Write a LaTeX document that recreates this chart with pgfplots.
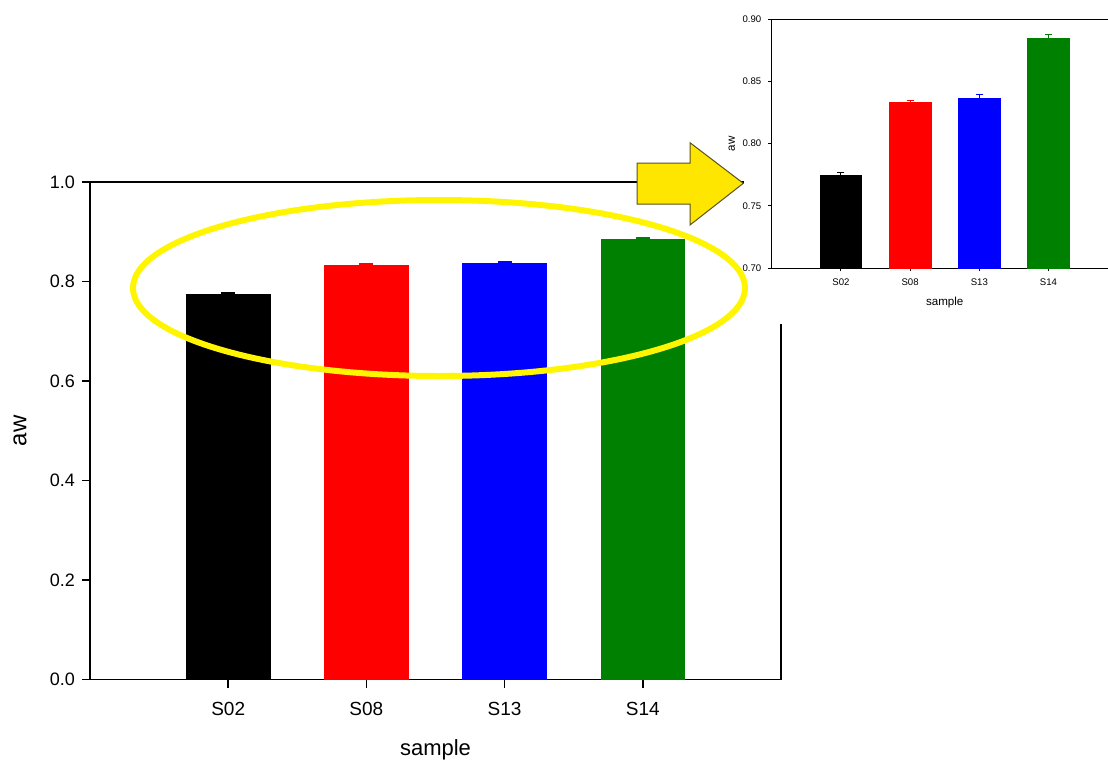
\documentclass[border=0pt]{standalone}
\usepackage{pgfplots}
\pgfplotsset{compat=1.18}
\usepackage{fontspec}
\setmainfont{Liberation Sans}
\definecolor{sgreen}{RGB}{0,128,0}
\definecolor{elly}{RGB}{255,245,0}
\definecolor{arry}{RGB}{255,230,0}
\definecolor{arrd}{RGB}{90,80,30}
\begin{document}
\begin{tikzpicture}
\path[use as bounding box] (0pt,0pt) rectangle (554pt,-380pt);
% ---------------- main axis ----------------
\begin{axis}[
  at={(45pt,-339.75pt)}, anchor=south west,
  scale only axis, width=345.5pt, height=248.75pt,
  xmin=0, xmax=5, ymin=0, ymax=1,
  ybar, bar shift=0pt, bar width=0.606,
  xtick={1,2,3,4}, xticklabels={S02,S08,S13,S14},
  ytick={0,0.2,0.4,0.6,0.8,1.0},
  yticklabel style={/pgf/number format/fixed,/pgf/number format/fixed zerofill,/pgf/number format/precision=1},
  /pgf/number format/assume math mode=true,
  tick pos=left, tick align=outside, major tick length=4pt,
  axis line style={line width=0.75pt}, tick style={line width=0.75pt, black},
  ticklabel style={font=\fontsize{9}{10}\selectfont},
  xticklabel style={font=\fontsize{9.5}{10}\selectfont, yshift=-4pt},
  xlabel={sample}, ylabel={aw},
  xlabel style={font=\fontsize{11}{13}\selectfont, at={(axis description cs:0.5,-0.1407)}, anchor=center},
  ylabel style={font=\fontsize{12}{14}\selectfont, at={(axis description cs:-0.1013,0.5)}, anchor=center},
]
\addplot[fill=black, draw=black, error bars/.cd, y dir=plus, y explicit,
  error bar style={black, line width=0.75pt}, error mark options={rotate=90, black, mark size=3.5pt, line width=0.75pt}]
  coordinates {(1,0.7742) +- (0,0.003)};
\addplot[fill=red, draw=red, error bars/.cd, y dir=plus, y explicit,
  error bar style={red, line width=0.75pt}, error mark options={rotate=90, red, mark size=3.5pt, line width=0.75pt}]
  coordinates {(2,0.8329) +- (0,0.002)};
\addplot[fill=blue, draw=blue, error bars/.cd, y dir=plus, y explicit,
  error bar style={blue, line width=0.75pt}, error mark options={rotate=90, blue, mark size=3.5pt, line width=0.75pt}]
  coordinates {(3,0.8367) +- (0,0.0027)};
\addplot[fill=sgreen, draw=sgreen, error bars/.cd, y dir=plus, y explicit,
  error bar style={sgreen, line width=0.75pt}, error mark options={rotate=90, sgreen, mark size=3.5pt, line width=0.75pt}]
  coordinates {(4,0.8847) +- (0,0.003)};
\end{axis}
% ---------------- inset ----------------
\fill[white] (372pt,0pt) rectangle (560pt,-162pt);
\begin{axis}[
  at={(385.85pt,-134pt)}, anchor=south west,
  scale only axis, width=173pt, height=124.35pt,
  xmin=0, xmax=5, ymin=0.7, ymax=0.9,
  axis x line=box, axis y line=left,
  axis line style={-, line width=0.5pt},
  x axis line style={-}, y axis line style={-},
  ybar, bar shift=0pt, bar width=0.606,
  xtick={1,2,3,4}, xticklabels={S02,S08,S13,S14},
  ytick={0.70,0.75,0.80,0.85,0.90},
  yticklabel style={/pgf/number format/fixed,/pgf/number format/fixed zerofill,/pgf/number format/precision=2},
  /pgf/number format/assume math mode=true,
  xtick pos=bottom, ytick pos=left, tick align=outside, major tick length=1.7pt,
  tick style={line width=0.5pt, black},
  ticklabel style={font=\fontsize{4.8}{5.5}\selectfont},
  xlabel={sample}, ylabel={aw},
  xlabel style={font=\fontsize{5.8}{7}\selectfont, at={(axis description cs:0.5,-0.1407)}, anchor=center},
  ylabel style={font=\fontsize{5.8}{7}\selectfont, at={(axis description cs:-0.1156,0.5)}, anchor=center},
]
\addplot[fill=black, draw=black, error bars/.cd, y dir=plus, y explicit,
  error bar style={black, line width=0.5pt}, error mark options={rotate=90, black, mark size=1.75pt, line width=0.5pt}]
  coordinates {(1,0.7742) +- (0,0.003)};
\addplot[fill=red, draw=red, error bars/.cd, y dir=plus, y explicit,
  error bar style={red, line width=0.5pt}, error mark options={rotate=90, red, mark size=1.75pt, line width=0.5pt}]
  coordinates {(2,0.8329) +- (0,0.002)};
\addplot[fill=blue, draw=blue, error bars/.cd, y dir=plus, y explicit,
  error bar style={blue, line width=0.5pt}, error mark options={rotate=90, blue, mark size=1.75pt, line width=0.5pt}]
  coordinates {(3,0.8367) +- (0,0.0027)};
\addplot[fill=sgreen, draw=sgreen, error bars/.cd, y dir=plus, y explicit,
  error bar style={sgreen, line width=0.5pt}, error mark options={rotate=90, sgreen, mark size=1.75pt, line width=0.5pt}]
  coordinates {(4,0.8847) +- (0,0.003)};
\end{axis}
% ---------------- annotations ----------------
\begin{scope}[x=0.5pt,y=-0.5pt]
\draw[elly, line width=3pt] (439,288) ellipse [x radius=153pt, y radius=44pt];
\draw[fill=arry, draw=arrd, line width=0.5pt] (637,163) -- (690,163) -- (690,142.7) -- (743.3,183.3) -- (690,225) -- (690,204) -- (637,204) -- cycle;
\end{scope}
\end{tikzpicture}
\end{document}
